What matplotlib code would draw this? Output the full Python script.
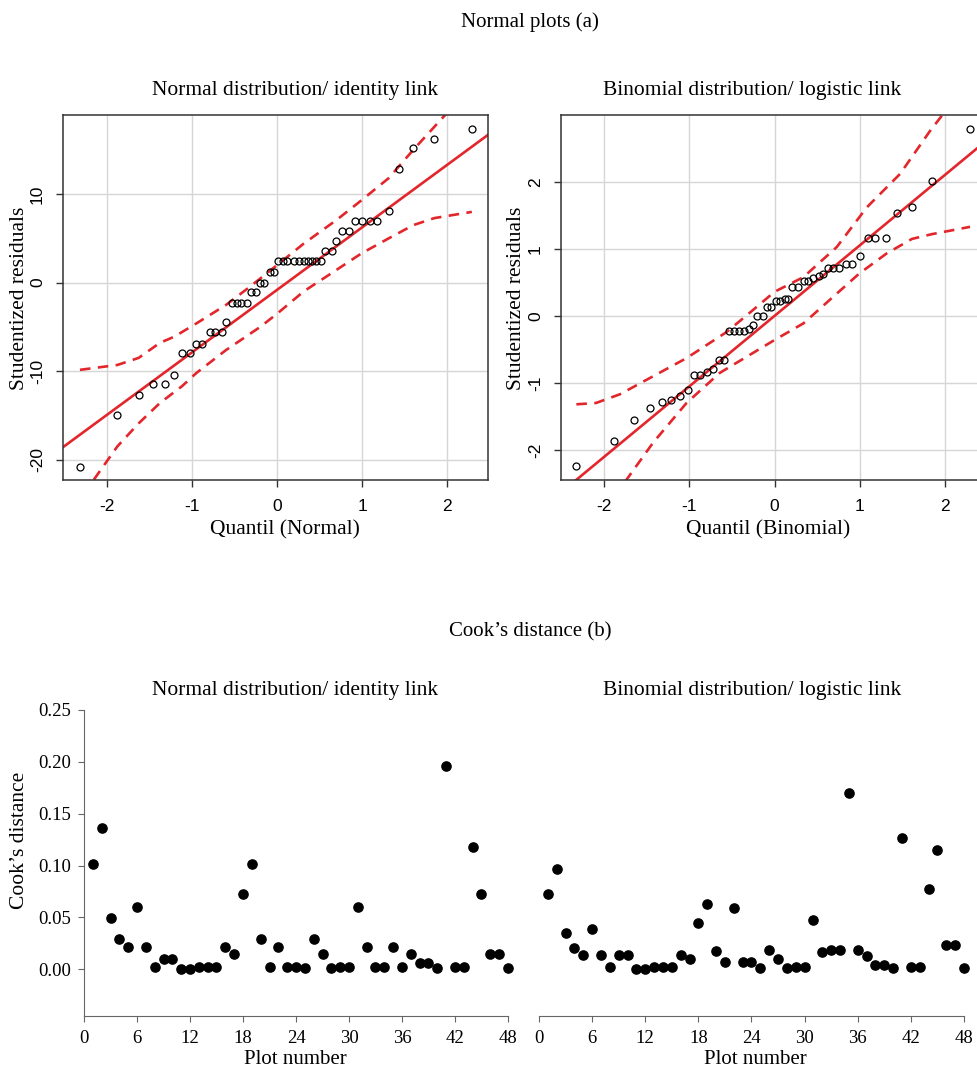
import matplotlib
matplotlib.use('Agg')
import matplotlib.pyplot as plt
import numpy as np

plt.rcParams['axes.unicode_minus'] = False

# ---- data ----
# Normal distribution / identity link: theoretical quantile vs studentized residual
qn_x = [-2.32, -1.88, -1.63, -1.46, -1.32, -1.21, -1.12, -1.03, -0.95, -0.88,
        -0.79, -0.73, -0.65, -0.60, -0.53, -0.47, -0.42, -0.36, -0.31, -0.25,
        -0.20, -0.15, -0.09, -0.04, 0.01, 0.07, 0.12, 0.20, 0.26, 0.31,
        0.36, 0.41, 0.46, 0.51, 0.56, 0.64, 0.69, 0.76, 0.84, 0.91,
        1.00, 1.09, 1.18, 1.31, 1.43, 1.60, 1.85, 2.29]
qn_y = [-20.8, -15.0, -12.7, -11.5, -11.5, -10.4, -8.0, -8.0, -6.9, -6.9,
        -5.6, -5.6, -5.6, -4.5, -2.3, -2.3, -2.3, -2.3, -1.1, -1.1,
        0.0, 0.0, 1.2, 1.2, 2.5, 2.5, 2.5, 2.5, 2.5, 2.5,
        2.5, 2.5, 2.5, 2.5, 3.6, 3.6, 4.7, 5.8, 5.8, 7.0,
        7.0, 7.0, 7.0, 8.1, 12.8, 15.2, 16.2, 17.4]
qn_line_x = [-2.55, 2.55]
qn_line_y = [-18.8, 17.2]
qn_up_x = [-2.32, -1.88, -1.63, -1.38, -1.21, -0.95, -0.60, -0.32, 0.0, 0.31, 0.70, 0.99, 1.31, 1.60, 1.99, 2.29]
qn_up_y = [-9.85, -9.3, -8.5, -6.8, -6.1, -4.6, -2.5, -0.45, 2.0, 4.4, 7.1, 9.3, 11.8, 15.0, 19.1, 22.5]
qn_lo_x = [-2.32, -2.16, -1.88, -1.63, -1.38, -1.12, -0.95, -0.60, -0.20, 0.0, 0.31, 0.58, 0.99, 1.31, 1.60, 1.85, 2.29]
qn_lo_y = [-26.0, -22.3, -18.5, -15.9, -13.6, -11.7, -10.2, -7.6, -5.0, -3.5, -1.0, 0.7, 3.3, 5.0, 6.5, 7.3, 8.0]

# Binomial distribution / logistic link
qb_x = [-2.32, -1.88, -1.64, -1.46, -1.32, -1.21, -1.11, -1.01, -0.94, -0.87,
        -0.79, -0.72, -0.65, -0.59, -0.53, -0.47, -0.41, -0.36, -0.30, -0.25,
        -0.20, -0.14, -0.09, -0.04, 0.02, 0.07, 0.12, 0.16, 0.21, 0.27,
        0.34, 0.39, 0.45, 0.52, 0.57, 0.63, 0.69, 0.76, 0.84, 0.91,
        1.00, 1.09, 1.18, 1.30, 1.43, 1.61, 1.84, 2.29]
qb_y = [-2.24, -1.87, -1.56, -1.37, -1.29, -1.26, -1.20, -1.10, -0.88, -0.88,
        -0.83, -0.80, -0.66, -0.66, -0.23, -0.23, -0.23, -0.23, -0.19, -0.14,
        0.0, 0.0, 0.13, 0.13, 0.23, 0.23, 0.26, 0.26, 0.43, 0.43,
        0.52, 0.52, 0.56, 0.60, 0.62, 0.71, 0.71, 0.71, 0.77, 0.77,
        0.90, 1.16, 1.16, 1.16, 1.54, 1.62, 2.01, 2.79]
qb_line_x = [-2.55, 2.55]
qb_line_y = [-2.69, 2.69]
qb_up_x = [-2.32, -2.09, -1.81, -1.42, -1.03, -0.56, -0.25, 0.0, 0.34, 0.73, 1.08, 1.47, 1.82, 1.96, 2.29]
qb_up_y = [-1.32, -1.30, -1.17, -0.90, -0.63, -0.24, 0.09, 0.36, 0.58, 1.03, 1.62, 2.12, 2.76, 2.99, 3.6]
qb_lo_x = [-2.32, -1.73, -1.42, -1.03, -0.64, 0.0, 0.34, 0.99, 1.31, 1.61, 1.84, 2.29]
qb_lo_y = [-3.6, -2.44, -1.89, -1.30, -0.85, -0.36, -0.11, 0.63, 0.93, 1.15, 1.22, 1.33]

# Cook's distance per plot number
plots = list(range(1, 49))
cook_normal = [0.102, 0.136, 0.049, 0.029, 0.022, 0.060, 0.022, 0.002, 0.010, 0.010,
               0.000, 0.000, 0.002, 0.002, 0.002, 0.022, 0.015, 0.073, 0.102, 0.029,
               0.002, 0.022, 0.002, 0.002, 0.001, 0.029, 0.015, 0.001, 0.002, 0.002,
               0.060, 0.022, 0.002, 0.002, 0.022, 0.002, 0.015, 0.006, 0.006, 0.001,
               0.196, 0.002, 0.002, 0.118, 0.073, 0.015, 0.015, 0.001]
cook_binom = [0.073, 0.097, 0.035, 0.021, 0.014, 0.039, 0.014, 0.002, 0.014, 0.014,
              0.000, 0.000, 0.002, 0.002, 0.002, 0.014, 0.010, 0.045, 0.063, 0.018,
              0.007, 0.059, 0.007, 0.007, 0.001, 0.019, 0.010, 0.001, 0.002, 0.002,
              0.048, 0.017, 0.019, 0.019, 0.170, 0.019, 0.013, 0.004, 0.004, 0.001,
              0.127, 0.002, 0.002, 0.077, 0.115, 0.023, 0.023, 0.001]

W, H = 978, 1070
RED = '#e3262b'
SERIF = 'Liberation Serif'
SANS = 'Liberation Sans'

fig = plt.figure(figsize=(W/100, H/100), dpi=100)

def box(x0, y0, x1, y1):
    # pixel box -> figure fraction rect
    return [x0/W, 1 - y1/H, (x1-x0)/W, (y1-y0)/H]

def ftext(x, y, s, size=15, **kw):
    fig.text(x/W, 1 - y/H, s, ha='center', va='center', fontsize=size, family=SERIF, **kw)

def qqpanel(ax, x, y, lx, ly, ux, uy, dx, dy, xlim, ylim, yticks):
    ax.set_xlim(xlim)
    ax.set_ylim(ylim)
    ax.set_xticks([-2, -1, 0, 1, 2])
    ax.set_yticks(yticks)
    ax.grid(True, color='#d6d6d6', lw=1)
    ax.set_axisbelow(True)
    ax.plot(lx, ly, color=RED, lw=1.9)
    ax.plot(ux, uy, color=RED, lw=1.9, ls=(0, (4, 2.8)))
    ax.plot(dx, dy, color=RED, lw=1.9, ls=(0, (4, 2.8)))
    ax.plot(x, y, 'o', mfc='none', mec='black', ms=5, mew=0.9)
    for s in ax.spines.values():
        s.set_color('#333333')
        s.set_linewidth(1.1)
    ax.tick_params(direction='out', length=5, width=1, color='#333333',
                   labelsize=12.5)
    ax.tick_params(axis='x', pad=9)
    ax.tick_params(axis='y', pad=8)
    for lab in ax.get_xticklabels() + ax.get_yticklabels():
        lab.set_family(SANS)
    for lab in ax.get_yticklabels():
        lab.set_rotation(90)
        lab.set_va('center')

ax1 = fig.add_axes(box(63, 115, 488, 480))
qqpanel(ax1, qn_x, qn_y, qn_line_x, qn_line_y, qn_up_x, qn_up_y, qn_lo_x, qn_lo_y,
        (-2.52, 2.48), (-22.3, 18.95), [-20, -10, 0, 10])

ax2 = fig.add_axes(box(561, 115, 988, 480))
qqpanel(ax2, qb_x, qb_y, qb_line_x, qb_line_y, qb_up_x, qb_up_y, qb_lo_x, qb_lo_y,
        (-2.50, 2.50), (-2.45, 3.0), [-2, -1, 0, 1, 2])

def cookpanel(ax, vals, left):
    ax.scatter(plots, vals, s=44, color='black', zorder=3, clip_on=False)
    ax.set_xlim(0, 48)
    ax.set_ylim(-0.045, 0.25)
    ax.set_xticks(range(0, 49, 6))
    ax.spines['top'].set_visible(False)
    ax.spines['right'].set_visible(False)
    ax.spines['bottom'].set_color('#666666')
    ax.spines['left'].set_color('#666666')
    ax.tick_params(direction='out', length=4, color='#666666', labelsize=13.5)
    ax.tick_params(axis='x', pad=6)
    ax.tick_params(axis='y', pad=5)
    if left:
        ax.set_yticks([0.0, 0.05, 0.10, 0.15, 0.20, 0.25])
        ax.set_yticklabels(['0.00', '0.05', '0.10', '0.15', '0.20', '0.25'])
    else:
        ax.spines['left'].set_visible(False)
        ax.set_yticks([])
    for lab in ax.get_xticklabels() + ax.get_yticklabels():
        lab.set_family(SERIF)

ax3 = fig.add_axes(box(84, 710, 508, 1016))
cookpanel(ax3, cook_normal, True)
ax4 = fig.add_axes(box(539, 710, 964, 1016))
cookpanel(ax4, cook_binom, False)

# titles and labels
ftext(530, 22, 'Normal plots (a)', size=15)
ftext(295, 90, 'Normal distribution/ identity link', size=15.5)
ftext(752, 90, 'Binomial distribution/ logistic link', size=15.5)
ftext(285, 530, 'Quantil (Normal)', size=15.5)
ftext(768, 530, 'Quantil (Binomial)', size=15.5)
ftext(20, 298, 'Studentized residuals', size=15.5, rotation=90)
ftext(517, 298, 'Studentized residuals', size=15.5, rotation=90)

ftext(530, 632, 'Cook\u2019s distance (b)', size=15)
ftext(295, 690, 'Normal distribution/ identity link', size=15.5)
ftext(752, 690, 'Binomial distribution/ logistic link', size=15.5)
ftext(20, 840, 'Cook\u2019s distance', size=15.5, rotation=90)
ftext(295, 1059, 'Plot number', size=15)
ftext(755, 1059, 'Plot number', size=15)

fig.savefig('out.png', dpi=100)
